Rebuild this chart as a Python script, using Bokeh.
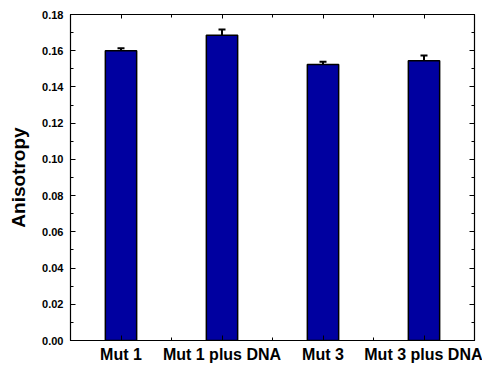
from bokeh.plotting import figure
from bokeh.models import Range1d, FixedTicker, LinearAxis, ColumnDataSource, Whisker, TeeHead
from bokeh.embed import file_html
from bokeh.resources import INLINE

categories = ["Mut 1", "Mut 1 plus DNA", "Mut 3", "Mut 3 plus DNA"]
positions = [1, 2, 3, 4]
anisotropy = [0.160, 0.1685, 0.1524, 0.1544]
errors = [0.0014, 0.0032, 0.0015, 0.0030]
y_ticks = [0.00, 0.02, 0.04, 0.06, 0.08, 0.10, 0.12, 0.14, 0.16, 0.18]

src = ColumnDataSource(dict(
    x=positions, top=anisotropy,
    upper=[v + e for v, e in zip(anisotropy, errors)],
    lower=[v - e for v, e in zip(anisotropy, errors)],
))

p = figure(width=482, height=365, output_backend="svg", toolbar_location=None,
           x_range=Range1d(0.5, 4.5), y_range=Range1d(0, 0.18),
           min_border_left=70, min_border_right=8, min_border_top=14, min_border_bottom=25)
p.background_fill_color = "white"
p.border_fill_color = "white"
p.outline_line_color = "black"
p.outline_line_width = 1.2
p.grid.visible = False

p.vbar(x="x", top="top", width=0.31, source=src, fill_color="#0000A0",
       line_color="black", line_width=1.5)
w = Whisker(base="x", upper="upper", lower="lower", source=src,
            line_color="black", line_width=2,
            upper_head=TeeHead(size=7, line_color="black", line_width=2),
            lower_head=TeeHead(size=7, line_color="black", line_width=2))
p.add_layout(w)

xt = FixedTicker(ticks=positions, minor_ticks=[0.5, 1.5, 2.5, 3.5, 4.5])
yt = FixedTicker(ticks=y_ticks, minor_ticks=[i * 0.01 for i in range(19)])

xa = p.xaxis[0]
xa.ticker = xt
xa.major_label_overrides = {pos: lab for pos, lab in zip(positions, categories)}
xa.major_label_text_font = "Liberation Sans"
xa.major_label_text_font_style = "bold"
xa.major_label_text_font_size = "16px"
xa.major_label_text_color = "black"
xa.major_label_standoff = 5

ya = p.yaxis[0]
ya.ticker = yt
ya.major_label_overrides = {t: f"{t:.2f}" for t in y_ticks}
ya.major_label_text_font = "Liberation Sans"
ya.major_label_text_font_style = "bold"
ya.major_label_text_font_size = "11px"
ya.major_label_text_color = "black"
ya.axis_label = "Anisotropy"
ya.axis_label_text_font = "Liberation Sans"
ya.axis_label_text_font_style = "bold"
ya.axis_label_text_font_size = "19px"
ya.axis_label_text_color = "black"
ya.axis_label_standoff = 10
ya.major_label_standoff = 7

for ax in (xa, ya):
    ax.major_tick_in = 5
    ax.major_tick_out = 0
    ax.minor_tick_in = 3
    ax.minor_tick_out = 0
    ax.axis_line_color = "black"
    ax.major_tick_line_color = "black"
    ax.minor_tick_line_color = "black"

top = LinearAxis(ticker=xt, major_label_text_font_size="0px", major_label_standoff=0,
                 major_tick_in=4, major_tick_out=0, minor_tick_in=3, minor_tick_out=0)
right = LinearAxis(ticker=yt, major_label_text_font_size="0px", major_label_standoff=0,
                   major_tick_in=5, major_tick_out=0, minor_tick_in=3, minor_tick_out=0)
top.major_label_text_color = None
right.major_label_text_color = None
p.add_layout(top, "above")
p.add_layout(right, "right")

open("out.html", "w").write(file_html(p, INLINE))
